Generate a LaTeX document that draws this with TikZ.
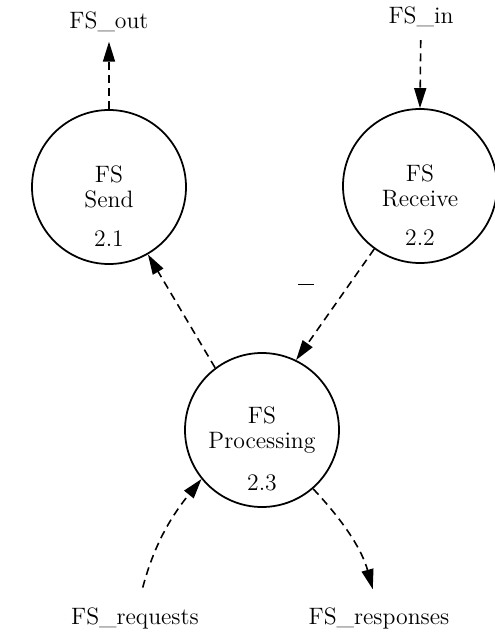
\documentclass[tikz,border=0pt]{standalone}
\usepackage{amsmath, amssymb}
\usepackage{tikz}
\usetikzlibrary{shapes, positioning, arrows.meta}

\begin{document}
\begin{tikzpicture}[every node/.style={font=\fontsize{13.5}{14.5}\selectfont},
    bubble/.style={circle, draw, line width=1pt, minimum size=3.08cm, inner sep=0pt, align=center},
    flow/.style={line width=0.9pt, dash pattern=on 4.5pt off 3pt, -{Triangle[length=4mm, width=2.4mm]}}]
        \useasboundingbox (0, 0) rectangle (9.9, -12.72);
        % processes
        \node[bubble] (send) at (2.18, -3.74) {FS\\Send};
        \node[bubble] (receive) at (8.40, -3.72) {FS\\Receive};
        \node[bubble] (proc) at (5.24, -8.60) {FS\\Processing};
        \node (sendnum) at ([yshift=-1.04cm]send.center) {2.1};
        \node (receivenum) at ([yshift=-1.04cm]receive.center) {2.2};
        \node (procnum) at ([yshift=-1.06cm]proc.center) {2.3};
        
        % external flows
        \node (fsout) at (2.18, -0.44) {FS\_out};
        \node (fsin) at (8.42, -0.34) {FS\_in};
        \node (fsreq) at (2.70, -12.36) {FS\_requests};
        \node (fsresp) at (7.58, -12.36) {FS\_responses};
        
        \draw[flow, shorten >=2pt] (send.north) -- (fsout);
        \draw[flow, shorten <=4pt] (fsin) -- (receive.north);
        \draw[flow] (proc.127) -- (send.-60);
        \draw[flow] (receive.234) -- (proc.64);
        \draw[flow, shorten <=8pt] (fsreq) to[bend left=12] (proc.219);
        \draw[flow, shorten >=7pt] (proc.311) to[bend left=14] ([xshift=-0.06cm]fsresp.north);
        
        \draw[line width=0.4pt] (5.96, -5.68) -- (6.28, -5.68);
    \end{tikzpicture}
\end{document}
